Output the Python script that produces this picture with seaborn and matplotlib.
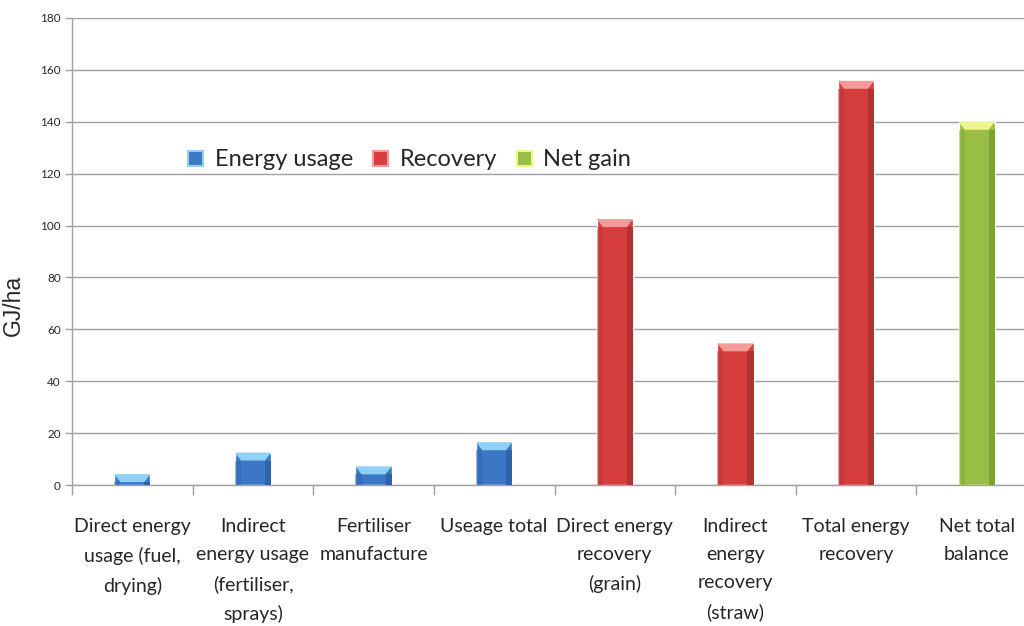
import matplotlib
matplotlib.use("Agg")
import matplotlib.pyplot as plt
import matplotlib.patches as mpatches
import seaborn as sns
import pandas as pd
import numpy as np

categories = [
    "Direct energy\nusage (fuel,\ndrying)",
    "Indirect\nenergy usage\n(fertiliser,\nsprays)",
    "Fertiliser\nmanufacture",
    "Useage total",
    "Direct energy\nrecovery\n(grain)",
    "Indirect\nenergy\nrecovery\n(straw)",
    "Total energy\nrecovery",
    "Net total\nbalance",
]
values = [4.2, 12.5, 7.2, 16.5, 102.5, 54.6, 155.8, 140.0]
groups = ["Energy usage"] * 4 + ["Recovery"] * 3 + ["Net gain"]
legend_labels = ["Energy usage", "Recovery", "Net gain"]
y_ticks = [0, 20, 40, 60, 80, 100, 120, 140, 160, 180]
y_label = "GJ/ha"

body = {"Energy usage": "#3C77C6", "Recovery": "#D63E3E", "Net gain": "#98BE45"}
side = {"Energy usage": "#2E62AA", "Recovery": "#B53232", "Net gain": "#7FA236"}
cap = {"Energy usage": "#8FD0F8", "Recovery": "#F49A9A", "Net gain": "#EEF58A"}

df = pd.DataFrame({"category": categories, "value": values, "group": groups})

sns.set_theme(style="white")
plt.rcParams["font.family"] = ["Lato", "DejaVu Sans"]

fig = plt.figure(figsize=(10.24, 6.26), dpi=100)
ax = fig.add_axes([72 / 1024, 141 / 626, 965 / 1024, 467 / 626])

sns.barplot(data=df, x="category", y="value", hue="group", order=categories,
            hue_order=legend_labels, dodge=False, palette=body, width=0.3,
            saturation=1, legend=False, ax=ax, zorder=3)

ax.set_ylim(0, 180)
ax.set_xlim(-0.5, len(categories) - 0.5)

# bevel decoration derived from each bar's geometry
fig.canvas.draw()
px_per_unit = ax.get_window_extent().height / 180.0
cap_depth = 8.0 / px_per_unit
bars = [p for p in ax.patches if p.get_height() > 0]
bars.sort(key=lambda p: p.get_x())
for p, g in zip(bars, groups):
    x0, w, h = p.get_x(), p.get_width(), p.get_height()
    inset = w * 0.17
    d = min(cap_depth, h)
    ax.add_patch(mpatches.Rectangle((x0, 0), inset, h - d, color=side[g], lw=0, zorder=4, alpha=0.45))
    ax.add_patch(mpatches.Rectangle((x0 + w - inset, 0), inset, h - d, color=side[g], lw=0, zorder=4))
    ax.add_patch(mpatches.Polygon([(x0, h), (x0 + w, h), (x0 + w - inset, h - d), (x0 + inset, h - d)],
                                  closed=True, color=cap[g], lw=0, zorder=5))

# y axis
ax.set_yticks(y_ticks)
ax.set_yticklabels([str(t) for t in y_ticks], fontsize=8.5, family=["Lato", "DejaVu Sans"])
ax.yaxis.grid(True, color="#A0A0A0", linewidth=1.0, zorder=0)
ax.set_axisbelow(True)
ax.tick_params(axis="y", which="major", left=True, length=5, width=1, color="#A0A0A0", pad=3)
ax.set_ylabel(y_label, fontsize=16.5, family=["Liberation Sans", "DejaVu Sans"])
ax.yaxis.set_label_coords(-47 / 965, 0.385)

# x axis: boundaries as major ticks, labels as minor ticks
n = len(categories)
ax.set_xticks(np.arange(n + 1) - 0.5)
ax.set_xticklabels([""] * (n + 1))
ax.set_xticks(np.arange(n), minor=True)
ax.set_xticklabels(categories, minor=True, fontsize=14, linespacing=1.8)
ax.tick_params(axis="x", which="major", bottom=True, length=7, width=1, color="#A0A0A0")
ax.tick_params(axis="x", which="minor", bottom=False, length=0, pad=23.5)
ax.set_xlabel("")

for s in ["top", "right"]:
    ax.spines[s].set_visible(False)
for s in ["left", "bottom"]:
    ax.spines[s].set_color("#A0A0A0")
    ax.spines[s].set_linewidth(1.0)

handles = [mpatches.Patch(facecolor=body[g], edgecolor=cap[g], linewidth=1.5) for g in legend_labels]
ax.legend(handles, legend_labels, loc="center", bbox_to_anchor=(0.35, 0.696), ncol=3,
          frameon=False, fontsize=17, handlelength=0.62, handleheight=0.62,
          handletextpad=0.5, columnspacing=0.85)

fig.savefig("out.png", dpi=100)
